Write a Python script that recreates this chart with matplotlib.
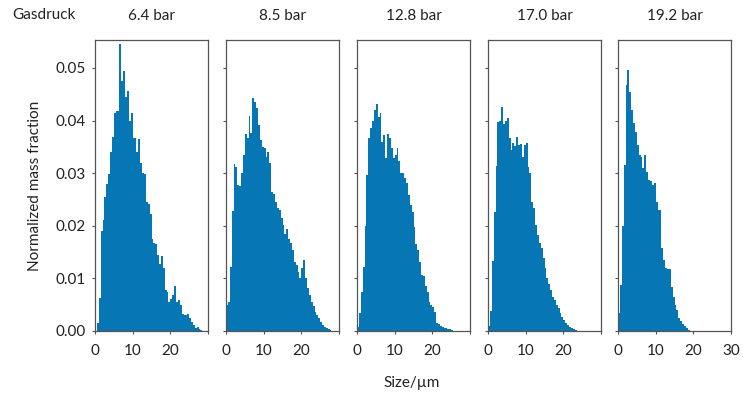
import numpy as np
import matplotlib
matplotlib.use("Agg")
import matplotlib.pyplot as plt
from matplotlib.ticker import FixedLocator, FixedFormatter

# --- data: normalized mass fraction per 0.5 um size bin, starting at 0 um ---
BIN_W = 0.5
pressures = ["6.4 bar", "8.5 bar", "12.8 bar", "17.0 bar", "19.2 bar"]

p64 = [0.0, 0.0015, 0.0063, 0.019, 0.021, 0.0255, 0.028, 0.0298, 0.034, 0.0368,
       0.0415, 0.0418, 0.0418, 0.0546, 0.0475, 0.0494, 0.0445, 0.0457, 0.0400, 0.0415,
       0.0366, 0.0366, 0.0340, 0.0365, 0.0320, 0.0300, 0.0298, 0.0245, 0.0242, 0.0222,
       0.0175, 0.0168, 0.0166, 0.0145, 0.0128, 0.0142, 0.0120, 0.0078, 0.0075, 0.0056,
       0.0060, 0.0068, 0.0085, 0.0055, 0.0058, 0.0050, 0.0032, 0.0030, 0.0030, 0.0032,
       0.0025, 0.0018, 0.0012, 0.0005, 0.0007, 0.0004, 0.0002]

p85 = [0.0049, 0.0056, 0.0122, 0.0228, 0.0318, 0.0312, 0.0277, 0.0275, 0.0300, 0.0335,
       0.0375, 0.0366, 0.0409, 0.0377, 0.0443, 0.0435, 0.0423, 0.0392, 0.0363, 0.0350,
       0.0347, 0.0331, 0.0340, 0.0320, 0.0265, 0.0261, 0.0246, 0.0233, 0.0230, 0.0214,
       0.0201, 0.0185, 0.0193, 0.0175, 0.0168, 0.0154, 0.0132, 0.0125, 0.0113, 0.0100,
       0.0120, 0.0135, 0.0100, 0.0081, 0.0068, 0.0055, 0.0048, 0.0037, 0.0030, 0.0025,
       0.0018, 0.0012, 0.0008, 0.0006, 0.0004, 0.0002]

p128 = [0.0008, 0.0035, 0.0075, 0.0122, 0.0200, 0.0296, 0.0367, 0.0385, 0.0400, 0.0420,
        0.0431, 0.0407, 0.0415, 0.0360, 0.0372, 0.0328, 0.0375, 0.0367, 0.0347, 0.0328,
        0.0334, 0.0347, 0.0323, 0.0301, 0.0300, 0.0290, 0.0282, 0.0258, 0.0239, 0.0227,
        0.0198, 0.0166, 0.0154, 0.0132, 0.0106, 0.0105, 0.0086, 0.0075, 0.0056, 0.0049,
        0.0045, 0.0037, 0.0015, 0.0014, 0.0010, 0.0008, 0.0005, 0.0005, 0.0004, 0.0003,
        0.0002]

p170 = [0.0010, 0.0038, 0.0133, 0.0227, 0.0314, 0.0397, 0.0400, 0.0426, 0.0394, 0.0400,
        0.0404, 0.0366, 0.0344, 0.0358, 0.0352, 0.0369, 0.0353, 0.0355, 0.0331, 0.0354,
        0.0358, 0.0312, 0.0300, 0.0246, 0.0233, 0.0201, 0.0182, 0.0168, 0.0157, 0.0138,
        0.0119, 0.0101, 0.0090, 0.0078, 0.0065, 0.0059, 0.0050, 0.0043, 0.0035, 0.0027,
        0.0021, 0.0015, 0.0011, 0.0008, 0.0005, 0.0004, 0.0002]

p192 = [0.0034, 0.0087, 0.0200, 0.0316, 0.0467, 0.0496, 0.0454, 0.0420, 0.0395, 0.0378,
        0.0354, 0.0334, 0.0331, 0.0309, 0.0334, 0.0302, 0.0287, 0.0285, 0.0277, 0.0282,
        0.0246, 0.0230, 0.0230, 0.0157, 0.0135, 0.0119, 0.0118, 0.0117, 0.0084, 0.0065,
        0.0049, 0.0040, 0.0024, 0.0019, 0.0013, 0.0010, 0.0006, 0.0002]

series = [p64, p85, p128, p170, p192]
y_ticks = [0.00, 0.01, 0.02, 0.03, 0.04, 0.05]
x_ticks = [0, 10, 20, 30]

BLUE = "#0776b5"
FRAME = "#555555"
TXT = "#222222"

plt.rcParams.update({"font.family": ["Lato", "DejaVu Sans"], "font.size": 10})

W, H = 743, 395
fig = plt.figure(figsize=(W / 100, H / 100), dpi=100)
lefts = [95, 226, 357, 488, 618]
top, bottom, width = 40, 331, 113

for k, (vals, label, x0) in enumerate(zip(series, pressures, lefts)):
    ax = fig.add_axes([x0 / W, (H - bottom) / H, width / W, (bottom - top) / H])
    edges = np.arange(len(vals) + 1) * BIN_W
    ax.stairs(vals, edges, fill=True, color=BLUE, lw=0)
    ax.set_xlim(0, 30)
    ax.set_ylim(0, 0.0553)
    for s in ax.spines.values():
        s.set_color(FRAME)
        s.set_linewidth(0.9)
    ax.xaxis.set_major_locator(FixedLocator(x_ticks))
    xl = ["0", "10", "20", "30" if k == 4 else ""]
    ax.xaxis.set_major_formatter(FixedFormatter(xl))
    ax.set_yticks(y_ticks)
    if k == 0:
        ax.set_yticklabels([f"{v:.2f}" for v in y_ticks])
    else:
        ax.set_yticklabels([])
    ax.tick_params(direction="out", length=2.5, width=0.8, color=FRAME,
                   labelsize=11, labelcolor=TXT)
    ax.tick_params(axis="x", pad=7)
    ax.tick_params(axis="y", pad=4)
    ax.set_title(label, fontsize=11, pad=14.5, color=TXT)

fig.text(12 / W, 1 - 15 / H, "Gasdruck", fontsize=11, va="center", ha="left",
         color=TXT)
fig.text(35 / W, 1 - 186 / H, "Normalized mass fraction", rotation=90,
         fontsize=11, va="center", ha="center", color=TXT)
fig.text(412 / W, 1 - 383 / H, "Size/\u00b5m", fontsize=11, va="center",
         ha="center", color=TXT)

fig.savefig("out.png", dpi=100)
